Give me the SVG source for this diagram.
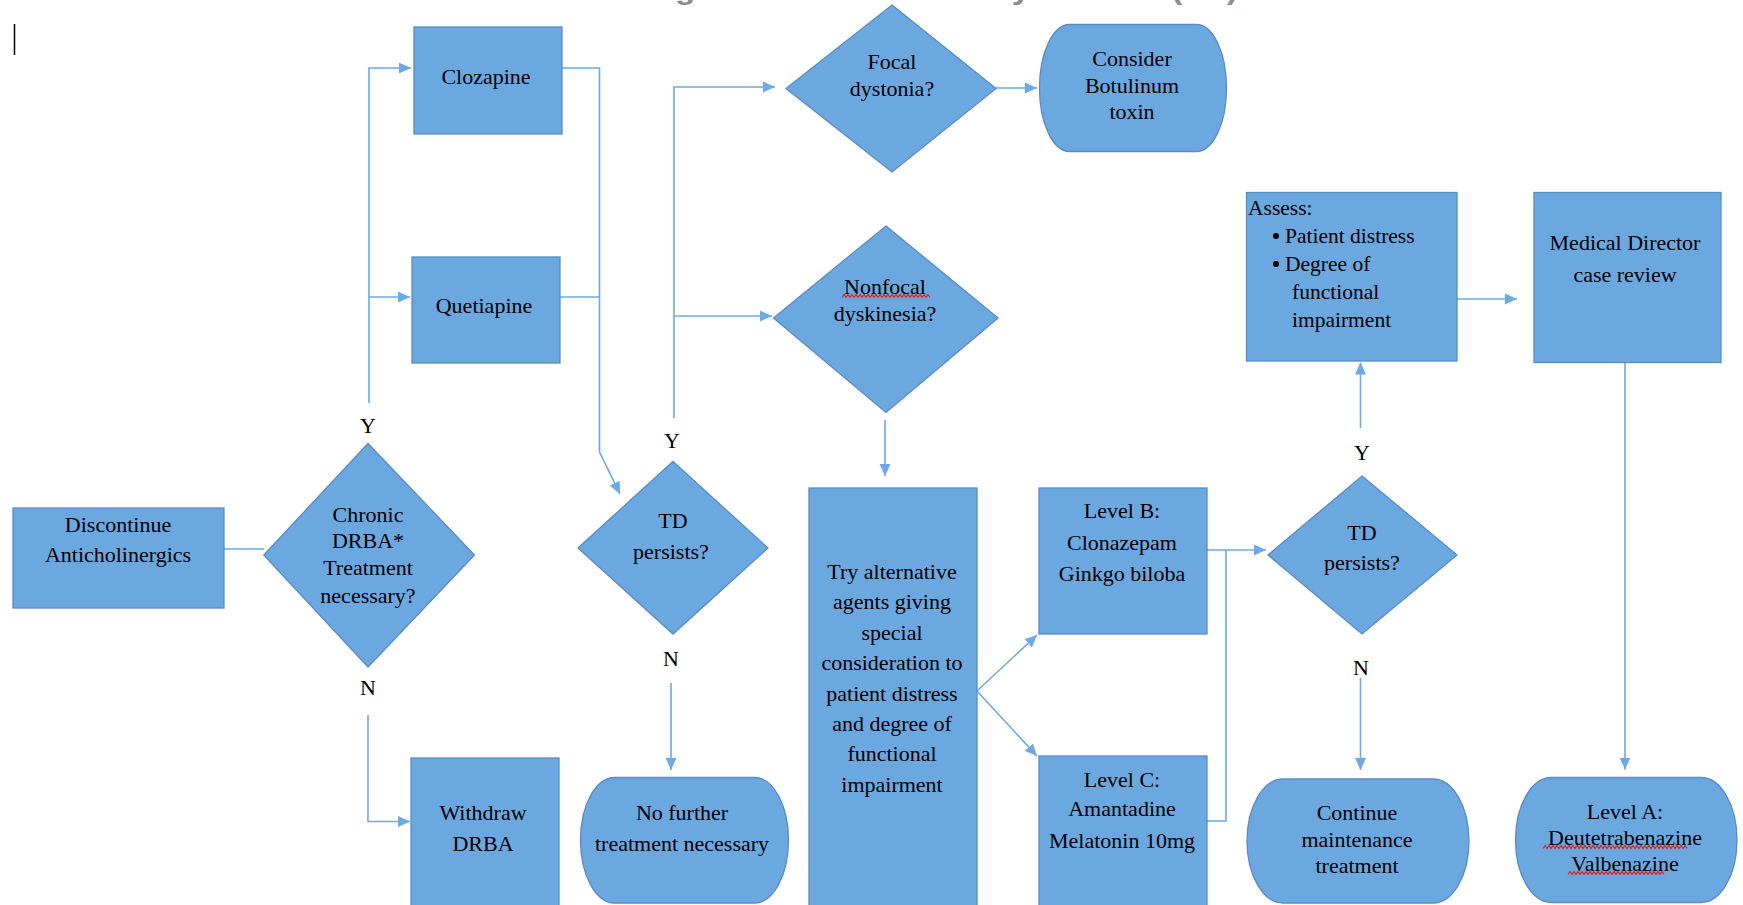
<svg xmlns="http://www.w3.org/2000/svg" width="1743" height="905" viewBox="0 0 1743 905">
<style>
.n{fill:#6CA8E0;stroke:#5A8AC6;stroke-width:1.3}
.t{font-family:"Liberation Serif","Times New Roman",serif;font-size:22px;fill:#000;text-anchor:middle}
.tl{font-family:"Liberation Serif","Times New Roman",serif;font-size:21.5px;fill:#000}
.c{fill:none;stroke:#6AAAE6;stroke-width:1.6}
.sq{fill:none;stroke:#E0201C;stroke-width:1.1}
</style>
<defs>
<marker id="ah" markerUnits="userSpaceOnUse" markerWidth="12" markerHeight="12" viewBox="0 0 12 12" refX="12" refY="6" orient="auto">
<path d="M0,0.5 L12,6 L0,11.5 Z" fill="#6AAAE6"/>
</marker>
</defs>
<rect width="1743" height="905" fill="#fff"/>
<text x="856" y="-1" font-family="'Liberation Sans',Arial,sans-serif" font-weight="bold" font-size="28" fill="#8C8C8C" text-anchor="middle" textLength="764" lengthAdjust="spacingAndGlyphs">Treatment Algorithm for Tardive Dyskinesia (TD)</text>
<line x1="14.5" y1="24" x2="14.5" y2="55" stroke="#000" stroke-width="1.5"/>

<g id="connectors">
<path class="c" d="M224,549 H264"/>
<path class="c" d="M369,403 V68 H411" marker-end="url(#ah)"/>
<path class="c" d="M369,297 H410" marker-end="url(#ah)"/>
<path class="c" d="M368,715 V821.5 H410" marker-end="url(#ah)"/>
<path class="c" d="M562,68 H599.5 V452 L620,494" marker-end="url(#ah)"/>
<path class="c" d="M560,297 H599.5"/>
<path class="c" d="M674,418 V87 H775" marker-end="url(#ah)"/>
<path class="c" d="M674,316 H772" marker-end="url(#ah)"/>
<path class="c" d="M671,683 V770" marker-end="url(#ah)"/>
<path class="c" d="M996,88 H1037" marker-end="url(#ah)"/>
<path class="c" d="M885,420 V476" marker-end="url(#ah)"/>
<path class="c" d="M977,691 L1037,635" marker-end="url(#ah)"/>
<path class="c" d="M977,691 L1037,756" marker-end="url(#ah)"/>
<path class="c" d="M1207,550 H1266" marker-end="url(#ah)"/>
<path class="c" d="M1207,821 H1226 V550"/>
<path class="c" d="M1360.5,428 V362.5" marker-end="url(#ah)"/>
<path class="c" d="M1360.5,678 V770" marker-end="url(#ah)"/>
<path class="c" d="M1457,299 H1517" marker-end="url(#ah)"/>
<path class="c" d="M1625,362.5 V769.5" marker-end="url(#ah)"/>
</g>

<g id="labels">
<text class="t" x="368" y="433">Y</text>
<text class="t" x="368" y="695">N</text>
<text class="t" x="672" y="448">Y</text>
<text class="t" x="671" y="666">N</text>
<text class="t" x="1362" y="460">Y</text>
<text class="t" x="1361" y="675">N</text>
</g>

<g id="discontinue">
<rect class="n" x="13" y="508" width="211" height="100"/>
<text class="t" x="118" y="532">Discontinue</text>
<text class="t" x="118" y="562">Anticholinergics</text>
</g>

<g id="chronic">
<polygon class="n" points="368,443.5 474.5,555 368,667 263.8,555"/>
<text class="t" x="368" y="522">Chronic</text>
<text class="t" x="368" y="548">DRBA*</text>
<text class="t" x="368" y="575">Treatment</text>
<text class="t" x="368" y="603">necessary?</text>
</g>

<g id="clozapine">
<rect class="n" x="414" y="27" width="148" height="107"/>
<text class="t" x="486" y="84">Clozapine</text>
</g>

<g id="quetiapine">
<rect class="n" x="412" y="257" width="148" height="106"/>
<text class="t" x="484" y="313">Quetiapine</text>
</g>

<g id="withdraw">
<rect class="n" x="411" y="758" width="148" height="150"/>
<text class="t" x="483" y="820">Withdraw</text>
<text class="t" x="483" y="851">DRBA</text>
</g>

<g id="td1">
<polygon class="n" points="673,461.5 768,548 673,634 578,548"/>
<text class="t" x="673" y="528">TD</text>
<text class="t" x="671" y="559">persists?</text>
</g>

<g id="nofurther">
<rect class="n" x="580.5" y="777.5" width="208" height="125.5" rx="34" ry="62.75"/>
<text class="t" x="682" y="820">No further</text>
<text class="t" x="682" y="851">treatment necessary</text>
</g>

<g id="focal">
<polygon class="n" points="892,5 996,88.5 892,172 786,88.5"/>
<text class="t" x="892" y="69">Focal</text>
<text class="t" x="892" y="96">dystonia?</text>
</g>

<g id="botulinum">
<rect class="n" x="1039.5" y="24.5" width="187" height="127" rx="30" ry="63.5"/>
<text class="t" x="1132" y="66">Consider</text>
<text class="t" x="1132" y="93">Botulinum</text>
<text class="t" x="1132" y="119">toxin</text>
</g>

<g id="nonfocal">
<polygon class="n" points="886,226 998,318 886,412.5 773.5,318"/>
<text class="t" x="885" y="294">Nonfocal</text>
<text class="t" x="885" y="321">dyskinesia?</text>
<path class="sq" d="M842,297.5l2-3 2 3 2-3 2 3 2-3 2 3 2-3 2 3 2-3 2 3 2-3 2 3 2-3 2 3 2-3 2 3 2-3 2 3 2-3 2 3 2-3 2 3 2-3 2 3 2-3 2 3 2-3 2 3 2-3 2 3 2-3 2 3 2-3 2 3 2-3 2 3 2-3 2 3 2-3 2 3 2-3 2 3 2-3 2 3"/>
</g>

<g id="tryalt">
<rect class="n" x="809" y="488" width="168" height="420"/>
<text class="t" x="892" y="579">Try alternative</text>
<text class="t" x="892" y="609.4">agents giving</text>
<text class="t" x="892" y="639.8">special</text>
<text class="t" x="892" y="670.2">consideration to</text>
<text class="t" x="892" y="700.6">patient distress</text>
<text class="t" x="892" y="731">and degree of</text>
<text class="t" x="892" y="761.4">functional</text>
<text class="t" x="892" y="791.8">impairment</text>
</g>

<g id="levelb">
<rect class="n" x="1039" y="488" width="168" height="146"/>
<text class="t" x="1122" y="518">Level B:</text>
<text class="t" x="1122" y="550">Clonazepam</text>
<text class="t" x="1122" y="581">Ginkgo biloba</text>
</g>

<g id="levelc">
<rect class="n" x="1039" y="756" width="168" height="152"/>
<text class="t" x="1122" y="787">Level C:</text>
<text class="t" x="1122" y="816">Amantadine</text>
<text class="t" x="1122" y="848">Melatonin 10mg</text>
</g>

<g id="td2">
<polygon class="n" points="1362,476 1457,555 1362,634 1268,555"/>
<text class="t" x="1362" y="540">TD</text>
<text class="t" x="1362" y="570">persists?</text>
</g>

<g id="continue">
<rect class="n" x="1247" y="779" width="222" height="124" rx="36" ry="62"/>
<text class="t" x="1357" y="820">Continue</text>
<text class="t" x="1357" y="847">maintenance</text>
<text class="t" x="1357" y="873">treatment</text>
</g>

<g id="assess">
<rect class="n" x="1246.5" y="192.5" width="210.5" height="168.5"/>
<text class="tl" x="1248" y="215">Assess:</text>
<circle cx="1276" cy="236" r="3" fill="#000"/>
<text class="tl" x="1285" y="243">Patient distress</text>
<circle cx="1276" cy="264" r="3" fill="#000"/>
<text class="tl" x="1285" y="271">Degree of</text>
<text class="tl" x="1292" y="299">functional</text>
<text class="tl" x="1292" y="327">impairment</text>
</g>

<g id="medical">
<rect class="n" x="1534" y="192.5" width="187" height="170"/>
<text class="t" x="1625" y="250">Medical Director</text>
<text class="t" x="1625" y="282">case review</text>
</g>

<g id="levela">
<rect class="n" x="1515.5" y="777.5" width="221.5" height="125" rx="36" ry="62.5"/>
<text class="t" x="1625" y="819">Level A:</text>
<text class="t" x="1625" y="845">Deutetrabenazine</text>
<text class="t" x="1625" y="871">Valbenazine</text>
<path class="sq" d="M1543,848.5l2-3 2 3 2-3 2 3 2-3 2 3 2-3 2 3 2-3 2 3 2-3 2 3 2-3 2 3 2-3 2 3 2-3 2 3 2-3 2 3 2-3 2 3 2-3 2 3 2-3 2 3 2-3 2 3 2-3 2 3 2-3 2 3 2-3 2 3 2-3 2 3 2-3 2 3 2-3 2 3 2-3 2 3 2-3 2 3 2-3 2 3 2-3 2 3 2-3 2 3 2-3 2 3 2-3 2 3 2-3 2 3 2-3 2 3 2-3 2 3 2-3 2 3 2-3 2 3 2-3 2 3 2-3 2 3 2-3 2 3 2-3 2 3"/>
<path class="sq" d="M1568,874.5l2-3 2 3 2-3 2 3 2-3 2 3 2-3 2 3 2-3 2 3 2-3 2 3 2-3 2 3 2-3 2 3 2-3 2 3 2-3 2 3 2-3 2 3 2-3 2 3 2-3 2 3 2-3 2 3 2-3 2 3 2-3 2 3 2-3 2 3 2-3 2 3 2-3 2 3 2-3 2 3 2-3 2 3 2-3 2 3 2-3 2 3 2-3 2 3"/>
</g>
</svg>
